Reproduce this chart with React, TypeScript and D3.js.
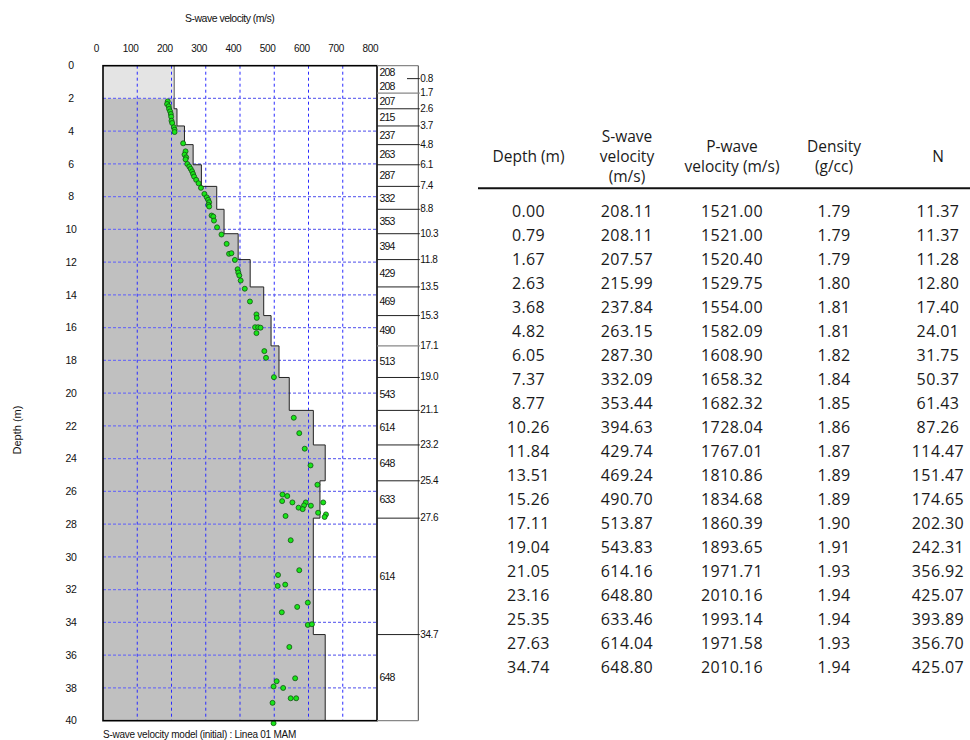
import React from "react";
import * as d3 from "d3";

// ---- layer model (table) ----
const depthTops = [0.0, 0.79, 1.67, 2.63, 3.68, 4.82, 6.05, 7.37, 8.77, 10.26, 11.84, 13.51, 15.26, 17.11, 19.04, 21.05, 23.16, 25.35, 27.63, 34.74];
const sVel = [208.11, 208.11, 207.57, 215.99, 237.84, 263.15, 287.3, 332.09, 353.44, 394.63, 429.74, 469.24, 490.7, 513.87, 543.83, 614.16, 648.8, 633.46, 614.04, 648.8];
const pVel = [1521.0, 1521.0, 1520.4, 1529.75, 1554.0, 1582.09, 1608.9, 1658.32, 1682.32, 1728.04, 1767.01, 1810.86, 1834.68, 1860.39, 1893.65, 1971.71, 2010.16, 1993.14, 1971.58, 2010.16];
const density = [1.79, 1.79, 1.79, 1.8, 1.81, 1.81, 1.82, 1.84, 1.85, 1.86, 1.87, 1.89, 1.89, 1.9, 1.91, 1.93, 1.94, 1.94, 1.93, 1.94];
const nValues = [11.37, 11.37, 11.28, 12.8, 17.4, 24.01, 31.75, 50.37, 61.43, 87.26, 114.47, 151.47, 174.65, 202.3, 242.31, 356.92, 425.07, 393.89, 356.7, 425.07];

const maxDepth = 40;
const upperZoneDepth = 2.0;

// boundary labels in the right-hand column
const boundaryLabels = ["0.8", "1.7", "2.6", "3.7", "4.8", "6.1", "7.4", "8.8", "10.3", "11.8", "13.5", "15.3", "17.1", "19.0", "21.1", "23.2", "25.4", "27.6", "34.7"];

// ---- observed points (velocity m/s, depth m) ----
const obsVel = [189, 187, 192, 193, 196, 198, 199, 200, 202, 207, 209, 209, 234, 241, 238, 243, 241, 246, 252, 256, 260, 263, 266, 272, 279, 286, 296, 303, 307, 310, 308, 310, 317, 322, 324, 333, 346, 361, 368, 375, 385, 393, 395, 398, 402, 414, 429, 448, 449, 444, 453, 460, 448, 471, 476, 499, 557, 573, 589, 606, 626, 524, 538, 523, 553, 592, 587, 607, 571, 583, 643, 628, 651, 647, 533, 548, 573, 511, 510, 532, 598, 567, 522, 598, 610, 544, 507, 498, 561, 526, 495, 548, 564, 498];
const obsDepth = [2.18, 2.34, 2.48, 2.64, 2.79, 2.95, 3.11, 3.36, 3.5, 3.76, 3.91, 4.05, 4.74, 5.23, 5.43, 5.6, 5.72, 6.0, 6.16, 6.3, 6.45, 6.61, 6.77, 6.97, 7.18, 7.46, 7.83, 8.04, 8.19, 8.34, 8.5, 8.6, 9.15, 9.21, 9.46, 9.87, 10.31, 10.88, 11.49, 11.45, 11.86, 12.43, 12.63, 12.81, 13.12, 13.62, 14.4, 15.19, 15.4, 15.97, 15.97, 16.0, 16.33, 17.43, 17.84, 19.02, 21.5, 22.44, 23.39, 24.41, 25.59, 26.19, 26.28, 26.59, 26.67, 26.67, 26.85, 26.87, 26.99, 27.08, 26.67, 27.3, 27.4, 27.56, 27.5, 28.98, 30.81, 31.1, 31.77, 31.69, 32.79, 33.05, 33.38, 34.15, 34.11, 35.5, 37.59, 37.91, 37.41, 38.0, 38.91, 38.63, 38.63, 40.15];

const xTicks = [0, 100, 200, 300, 400, 500, 600, 700, 800];
const yTicks = d3.range(0, 41, 2);

const tableHeaders = [["Depth (m)"], ["S-wave", "velocity", "(m/s)"], ["P-wave", "velocity (m/s)"], ["Density", "(g/cc)"], ["N"]];

const chartFont = "'Liberation Sans', Arial, sans-serif";
const tableFont = "'Open Sans', 'Noto Sans', sans-serif";

export default function App() {
  const x = d3.scaleLinear().domain([0, 800]).range([103, 377]);
  const y = d3.scaleLinear().domain([0, maxDepth]).range([65.7, 720.7]);
  const colL = 377;
  const colR = 418.3;

  // step profile below the upper zone
  const pts: [number, number][] = [];
  const startIdx = depthTops.findIndex((d, i) => (depthTops[i + 1] ?? maxDepth) > upperZoneDepth);
  pts.push([sVel[startIdx], upperZoneDepth]);
  for (let i = startIdx; i < depthTops.length; i++) {
    const top = i === startIdx ? upperZoneDepth : depthTops[i];
    const bot = depthTops[i + 1] ?? maxDepth;
    if (i !== startIdx) pts.push([sVel[i], top]);
    pts.push([sVel[i], bot]);
  }
  const stepLine = d3.line<[number, number]>().x((p) => x(p[0])).y((p) => y(p[1]));
  const areaPts: [number, number][] = [[0, upperZoneDepth], ...pts, [0, maxDepth]];

  const colX = [528.5, 627, 732, 834, 938];
  const rowY = (i: number) => 211.7 + i * 24;
  const tableCols = [depthTops, sVel, pVel, density, nValues];

  return (
    <svg width={970} height={740} style={{ display: "block", position: "absolute", left: 0, top: 0 }}>
      <rect x={0} y={0} width={970} height={740} fill="#fff" />
      {/* title */}
      <text x={229.6} y={18} dy="0.35em" textAnchor="middle" fontFamily={chartFont} fontSize={10.5} letterSpacing={-0.5} fill="#111">
        S-wave velocity (m/s)
      </text>
      {/* x tick labels */}
      {xTicks.map((t) => (
        <text key={t} x={x(t) - 6.5} y={48} dy="0.35em" textAnchor="middle" fontFamily={chartFont} fontSize={10} letterSpacing={-0.3} fill="#111">
          {t}
        </text>
      ))}
      {/* y tick labels */}
      {yTicks.map((t) => (
        <text key={t} x={71} y={y(t)} dy="0.35em" textAnchor="middle" fontFamily={chartFont} fontSize={10.5} letterSpacing={-0.3} fill="#111">
          {t}
        </text>
      ))}
      <text transform={`translate(17,430) rotate(-90)`} dy="0.35em" textAnchor="middle" fontFamily={chartFont} fontSize={11} fill="#111">
        Depth (m)
      </text>

      {/* upper zone */}
      <rect x={x(0)} y={y(0)} width={x(sVel[0]) - x(0)} height={y(upperZoneDepth) - y(0)} fill="#e4e4e4" />
      <line x1={x(sVel[0])} x2={x(sVel[0])} y1={y(0)} y2={y(upperZoneDepth)} stroke="#8a8a8a" strokeWidth={1.5} />
      {/* profile fill */}
      <path d={stepLine(areaPts) + "Z"} fill="#c0c0c0" />

      {/* grid */}
      {xTicks.slice(1, -1).map((t) => (
        <line key={"gx" + t} x1={x(t)} x2={x(t)} y1={y(0)} y2={y(maxDepth)} stroke="#2b2bff" strokeWidth={1} strokeDasharray="3,3" />
      ))}
      {yTicks.slice(1, -1).map((t) => (
        <line key={"gy" + t} x1={x(0)} x2={x(800)} y1={y(t)} y2={y(t)} stroke="#7070f0" strokeWidth={1.3} strokeDasharray="3,2" />
      ))}

      {/* profile outline */}
      <path d={stepLine(pts) ?? ""} fill="none" stroke="#222" strokeWidth={1} />

      {/* observed points */}
      {obsVel.map((v, i) => (
        <circle key={i} cx={x(v)} cy={y(obsDepth[i])} r={2.5} fill="#19e619" stroke="#145214" strokeWidth={0.8} />
      ))}

      {/* plot border */}
      <rect x={x(0)} y={y(0)} width={x(800) - x(0)} height={y(maxDepth) - y(0)} fill="none" stroke="#000" strokeWidth={1.6} />

      {/* layer column */}
      <line x1={colL} x2={colR} y1={y(0)} y2={y(0)} stroke="#888" strokeWidth={1.2} />
      <line x1={colR} x2={colR} y1={y(0)} y2={y(maxDepth)} stroke="#444" strokeWidth={1} />
      <line x1={colL} x2={colR} y1={y(maxDepth)} y2={y(maxDepth)} stroke="#888" strokeWidth={1.2} />
      {depthTops.slice(1).map((d, i) => (
        <g key={"b" + i}>
          <line x1={i === 0 ? colL + 30 : colL} x2={colR + 1.5} y1={y(d)} y2={y(d)} stroke={i === 1 || i === 12 ? "#888" : "#222"} strokeWidth={i === 1 || i === 12 ? 1.3 : 1} />
          <text x={colR + 2} y={y(d)} dy="0.3em" fontFamily={chartFont} fontSize={10} letterSpacing={-0.4} fill="#111">
            {boundaryLabels[i]}
          </text>
        </g>
      ))}
      {sVel.map((v, i) => {
        const top = depthTops[i];
        const bot = depthTops[i + 1] ?? maxDepth;
        return (
          <text key={"v" + i} x={colL + 2.5} y={y((top + bot) / 2)} dy="0.35em" fontFamily={chartFont} fontSize={10.5} letterSpacing={-0.9} fill="#111">
            {Math.floor(v)}
          </text>
        );
      })}

      {/* caption */}
      <text x={103} y={734} dy="0.35em" fontFamily={chartFont} fontSize={10} letterSpacing={-0.25} fill="#111">
        S-wave velocity model (initial) : Linea 01 MAM
      </text>

      {/* table */}
      {tableHeaders.map((lines, c) =>
        lines.map((ln, k) => (
          <text key={"h" + c + k} x={colX[c]} y={157 + (k - (lines.length - 1) / 2) * 20} dy="0.35em" textAnchor="middle" fontFamily={tableFont} fontSize={15.5} fill="#1a1a1a">
            {ln}
          </text>
        ))
      )}
      <line x1={478} x2={970} y1={188.3} y2={188.3} stroke="#111" strokeWidth={2} />
      {tableCols.map((col, c) =>
        col.map((v, r) => (
          <text key={"t" + c + "-" + r} x={colX[c]} y={rowY(r)} dy="0.36em" textAnchor="middle" fontFamily={tableFont} fontSize={16} letterSpacing={0.4} fill="#1a1a1a">
            {v.toFixed(2)}
          </text>
        ))
      )}
    </svg>
  );
}
